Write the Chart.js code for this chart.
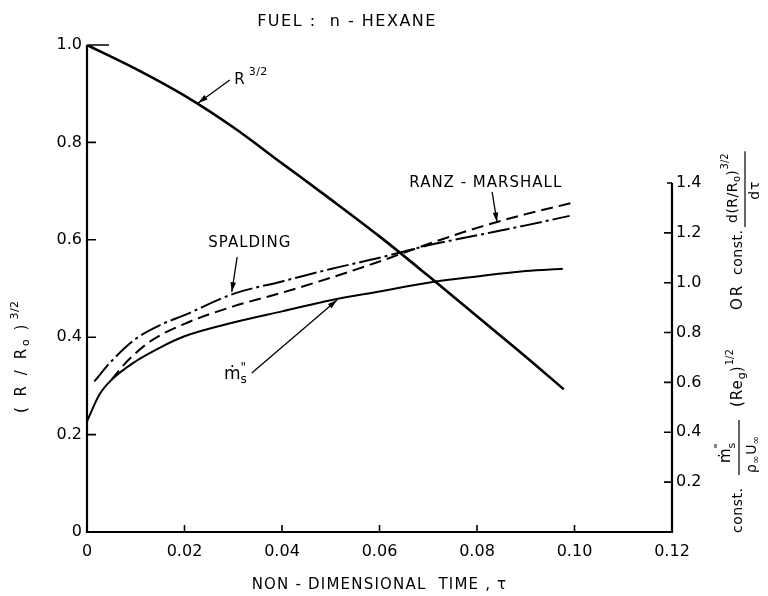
<!DOCTYPE html>
<html lang="en">
<head>
<meta charset="UTF-8" />
<title>Fuel: n-Hexane</title>
<script src="https://cdn.jsdelivr.net/npm/chart.js@4"></script>
<style>
  body { margin: 0; background: #fff; }
</style>
</head>
<body>
<canvas id="myChart" width="768" height="596"></canvas>
<script>
// curves (tau = non-dimensional time)
const rTime = [0, 0.01, 0.02, 0.03, 0.04, 0.05, 0.06, 0.07, 0.08, 0.09, 0.0978];
const rRadius = [1.0, 0.951, 0.896, 0.831, 0.757, 0.683, 0.607, 0.526, 0.443, 0.36, 0.293];

const mTime = [0, 0.0025, 0.005, 0.01, 0.015, 0.02, 0.03, 0.04, 0.05, 0.06, 0.07, 0.08, 0.09, 0.0976];
const mFlux = [0.444, 0.55, 0.61, 0.685, 0.74, 0.785, 0.84, 0.885, 0.93, 0.965, 1.0, 1.025, 1.047, 1.056];

const spTime = [0.0015, 0.005, 0.01, 0.015, 0.02, 0.03, 0.04, 0.05, 0.06, 0.07, 0.08, 0.09, 0.099];
const spFlux = [0.604, 0.685, 0.775, 0.83, 0.87, 0.955, 1.005, 1.055, 1.1, 1.15, 1.19, 1.23, 1.268];

const rmTime = [0.005, 0.008, 0.013, 0.02, 0.03, 0.04, 0.05, 0.06, 0.07, 0.08, 0.09, 0.0995];
const rmFlux = [0.61, 0.68, 0.765, 0.835, 0.905, 0.96, 1.02, 1.085, 1.155, 1.22, 1.275, 1.32];

const xTicks = [0, 0.02, 0.04, 0.06, 0.08, 0.10, 0.12];
const xTickLabels = ['0', '0.02', '0.04', '0.06', '0.08', '0.10', '0.12'];
const leftTicks = [0, 0.2, 0.4, 0.6, 0.8, 1.0];
const leftTickLabels = ['0', '0.2', '0.4', '0.6', '0.8', '1.0'];
const rightTicks = [0.2, 0.4, 0.6, 0.8, 1.0, 1.2, 1.4];
const rightTickLabels = ['0.2', '0.4', '0.6', '0.8', '1.0', '1.2', '1.4'];

const FONT = 'DejaVu Sans';

function pts(xs, ys) {
  return xs.map((x, i) => ({ x: x, y: ys[i] }));
}

function runText(ctx, parts, x, y) {
  // parts: [text, size, dy, spacing]
  let cx = x;
  for (const p of parts) {
    ctx.font = p[1] + 'px "' + FONT + '"';
    ctx.letterSpacing = (p[3] || 0) + 'px';
    ctx.fillText(p[0], cx, y + (p[2] || 0));
    cx += ctx.measureText(p[0]).width;
  }
  return cx;
}

function arrow(ctx, x1, y1, x2, y2) {
  const a = Math.atan2(y2 - y1, x2 - x1);
  ctx.lineWidth = 1.3;
  ctx.beginPath();
  ctx.moveTo(x1, y1);
  ctx.lineTo(x2, y2);
  ctx.stroke();
  ctx.beginPath();
  ctx.moveTo(x2, y2);
  ctx.lineTo(x2 - 10 * Math.cos(a - 0.28), y2 - 10 * Math.sin(a - 0.28));
  ctx.lineTo(x2 - 10 * Math.cos(a + 0.28), y2 - 10 * Math.sin(a + 0.28));
  ctx.closePath();
  ctx.fill();
}

const sketch = {
  id: 'sketch',
  afterDatasetsDraw(chart) {
    const ctx = chart.ctx;
    const x = chart.scales.x, y = chart.scales.y, y1 = chart.scales.y1;
    const X = v => x.getPixelForValue(v);
    const Y = v => y.getPixelForValue(v);
    const Y1 = v => y1.getPixelForValue(v);
    ctx.save();
    ctx.strokeStyle = '#000';
    ctx.fillStyle = '#000';

    // axes frame (right axis only up to 1.4)
    ctx.lineWidth = 2.2;
    ctx.beginPath();
    ctx.moveTo(X(0), Y(1));
    ctx.lineTo(X(0), Y(0));
    ctx.lineTo(X(0.12), Y(0));
    ctx.lineTo(X(0.12), Y1(1.4));
    ctx.stroke();

    // inward ticks
    ctx.lineWidth = 1.6;
    ctx.beginPath();
    leftTicks.forEach(v => {
      if (v === 0) return;
      ctx.moveTo(X(0), Y(v));
      ctx.lineTo(X(0) + (v === 1 ? 22 : 9), Y(v));
    });
    xTicks.forEach(v => {
      if (v === 0 || v === 0.12) return;
      ctx.moveTo(X(v), Y(0));
      ctx.lineTo(X(v), Y(0) - 7);
    });
    rightTicks.forEach(v => {
      ctx.moveTo(X(0.12), Y1(v));
      ctx.lineTo(X(0.12) - (v === 1.4 ? 5 : 8), Y1(v));
    });
    ctx.stroke();

    // arrows
    arrow(ctx, X(0.0293), Y(0.928), X(0.0228), Y(0.881));
    arrow(ctx, X(0.0308), Y1(1.103), X(0.0297), Y1(0.963));
    arrow(ctx, X(0.0831), Y1(1.364), X(0.0841), Y1(1.243));
    arrow(ctx, X(0.0338), Y1(0.638), X(0.0513), Y1(0.931));

    ctx.textBaseline = 'middle';
    ctx.textAlign = 'left';

    // curve labels
    runText(ctx, [['R', 15, 0, 0], [' 3/2', 11, -8, 0.5]], X(0.0302), Y(0.928));
    ctx.textAlign = 'center';
    runText(ctx, [['SPALDING', 15, 0, 1]], X(0.0334), Y1(1.159));
    runText(ctx, [['RANZ - MARSHALL', 15, 0, 1]], X(0.0818), Y1(1.40));
    ctx.textAlign = 'left';
    let mx = runText(ctx, [['ṁ', 17, 0, 0]], X(0.0281), Y1(0.63));
    runText(ctx, [['"', 12, -7, 0]], mx, Y1(0.63));
    runText(ctx, [['s', 12, 5, 0]], mx, Y1(0.63));

    // title and x-axis title
    runText(ctx, [['FUEL :  n - HEXANE', 16, 0, 1.5]], X(0.0349), 22);
    ctx.textAlign = 'center';
    runText(ctx, [['NON - DIMENSIONAL  TIME , τ', 15, 0, 1.2]], (X(0) + X(0.12)) / 2, 585);
    ctx.textAlign = 'left';

    // left axis title (rotated)
    ctx.save();
    ctx.translate(22, 413);
    ctx.rotate(-Math.PI / 2);
    let lx = runText(ctx, [['( R / R', 15, 0, 3]], 0, 0);
    lx = runText(ctx, [['o', 11, 4, 1]], lx, 0);
    lx = runText(ctx, [[' )', 15, 0, 3]], lx, 0);
    runText(ctx, [['3/2', 11, -7, 0.5]], lx + 2, 0);
    ctx.restore();

    // right axis title (rotated)
    ctx.save();
    ctx.translate(738, 533);
    ctx.rotate(-Math.PI / 2);
    runText(ctx, [['const.', 14, 0, 0.5]], 0, 0);
    // fraction 1: m''_s / rho_inf U_inf
    let u = runText(ctx, [['ṁ', 15, -12, 0]], 70, 0);
    runText(ctx, [['"', 11, -19, 0]], u, 0);
    runText(ctx, [['s', 11, -6, 0]], u, 0);
    ctx.lineWidth = 1.2;
    ctx.beginPath();
    ctx.moveTo(58, 1);
    ctx.lineTo(113, 1);
    ctx.stroke();
    u = runText(ctx, [['ρ', 14, 14, 0]], 60, 0);
    u = runText(ctx, [['∞', 10, 18, 0]], u, 0);
    u = runText(ctx, [['U', 14, 14, 0]], u + 1, 0);
    runText(ctx, [['∞', 10, 18, 0]], u, 0);
    // (Re_g)^1/2
    u = runText(ctx, [['(Re', 15, 0, 1]], 126, 0);
    u = runText(ctx, [['g', 11, 4, 0]], u, 0);
    u = runText(ctx, [[')', 15, 0, 1]], u, 0);
    runText(ctx, [['1/2', 10, -8, 0]], u, 0);
    runText(ctx, [['OR', 15, 0, 2]], 223, 0);
    runText(ctx, [['const.', 14, 0, 0.5]], 258, 0);
    // fraction 2: d(R/Ro)^3/2 / d tau
    u = runText(ctx, [['d(R/R', 14, -5, 0.5]], 310, 0);
    u = runText(ctx, [['o', 10, -1, 0]], u, 0);
    u = runText(ctx, [[')', 14, -5, 0]], u, 0);
    u = runText(ctx, [['3/2', 10, -13, 0]], u + 1, 0);
    ctx.beginPath();
    ctx.moveTo(306, 7);
    ctx.lineTo(u + 2, 7);
    ctx.stroke();
    ctx.textAlign = 'center';
    runText(ctx, [['dτ', 14, 17, 1]], (306 + u) / 2, 0);
    ctx.restore();

    ctx.restore();
  }
};

function tickFont() {
  return { family: FONT, size: 16 };
}

const ctx = document.getElementById('myChart').getContext('2d');
const myChart = new Chart(ctx, {
  type: 'line',
  data: {
    datasets: [
      {
        data: pts(rTime, rRadius),
        yAxisID: 'y',
        borderColor: '#000',
        borderWidth: 2.6,
        pointRadius: 0,
        cubicInterpolationMode: 'monotone'
      },
      {
        data: pts(mTime, mFlux),
        yAxisID: 'y1',
        borderColor: '#000',
        borderWidth: 2,
        pointRadius: 0,
        cubicInterpolationMode: 'monotone'
      },
      {
        data: pts(spTime, spFlux),
        yAxisID: 'y1',
        borderColor: '#000',
        borderWidth: 2,
        borderDash: [22, 4, 3, 4],
        pointRadius: 0,
        cubicInterpolationMode: 'monotone'
      },
      {
        data: pts(rmTime, rmFlux),
        yAxisID: 'y1',
        borderColor: '#000',
        borderWidth: 2,
        borderDash: [12, 6],
        pointRadius: 0,
        cubicInterpolationMode: 'monotone'
      }
    ]
  },
  options: {
    responsive: false,
    animation: false,
    layout: { padding: { top: 45, left: 0, right: 0, bottom: 0 } },
    plugins: {
      legend: { display: false },
      tooltip: { enabled: false },
      title: { display: false }
    },
    scales: {
      x: {
        type: 'linear',
        min: 0,
        max: 0.12,
        grid: { display: false, drawTicks: false },
        border: { display: false },
        afterFit(s) { s.height = 64; },
        afterBuildTicks(s) { s.ticks = xTicks.map(v => ({ value: v })); },
        ticks: {
          color: '#000',
          font: tickFont(),
          padding: 10,
          maxRotation: 0,
          autoSkip: false,
          callback: v => xTickLabels[xTicks.indexOf(v)]
        }
      },
      y: {
        position: 'left',
        min: 0,
        max: 1,
        grid: { display: false, drawTicks: false },
        border: { display: false },
        afterFit(s) { s.width = 87; },
        afterBuildTicks(s) { s.ticks = leftTicks.map(v => ({ value: v })); },
        ticks: {
          color: '#000',
          font: tickFont(),
          padding: 5,
          autoSkip: false,
          callback: v => leftTickLabels[leftTicks.indexOf(v)]
        }
      },
      y1: {
        position: 'right',
        min: 0,
        max: 1.9535,
        grid: { display: false, drawTicks: false },
        border: { display: false },
        afterFit(s) { s.width = 96; },
        afterBuildTicks(s) { s.ticks = rightTicks.map(v => ({ value: v })); },
        ticks: {
          color: '#000',
          font: tickFont(),
          padding: 4,
          autoSkip: false,
          callback: v => rightTickLabels[rightTicks.indexOf(v)]
        }
      }
    }
  },
  plugins: [sketch]
});
</script>
</body>
</html>
